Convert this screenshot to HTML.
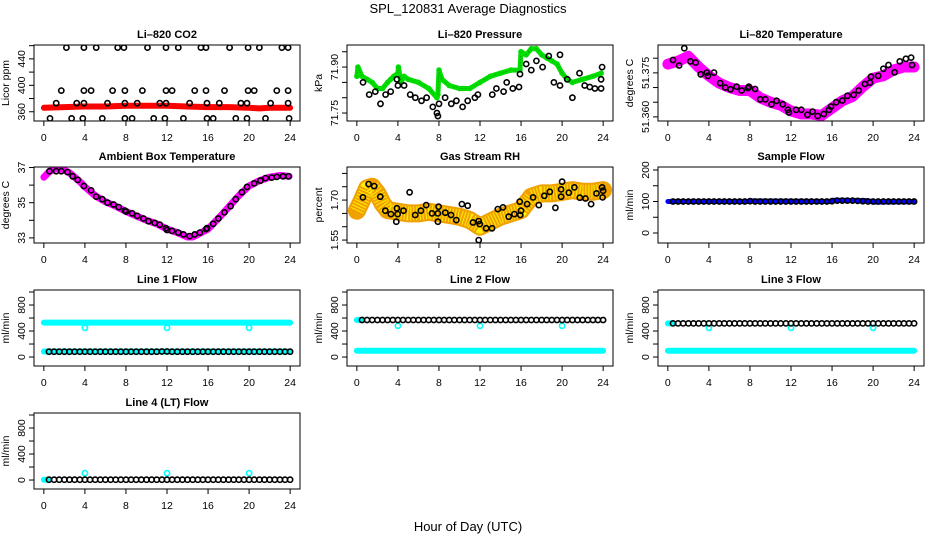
<!DOCTYPE html>
<html><head><meta charset="utf-8">
<style>
html,body{margin:0;padding:0;background:#fff;}
svg{display:block;font-family:"Liberation Sans",Arial,sans-serif;}
</style></head>
<body>
<svg id="chart" width="936" height="540" viewBox="0 0 936 540" xmlns="http://www.w3.org/2000/svg">
<text x="468" y="13" text-anchor="middle" font-size="13">SPL_120831  Average Diagnostics</text>
<text x="468" y="531" text-anchor="middle" font-size="13">Hour of Day (UTC)</text>
</svg>
<script>
// ---------- data ----------
const xTicks = [0,4,8,12,16,20,24];
// CO2
const co2BandH = [0,2,4,6,8,10,12,14,16,18,20,21,22,24];
const co2BandV = [366,367,368,368,369,369,369,368,367,367,366,365,366,366];
const co2PtsH = [2.2,3.9,5.1,7.2,7.8,10.1,11.9,13.1,15.3,15.8,18.1,19.9,21.0,23.2,23.8,
 1.7,3.9,4.6,6.7,7.9,9.6,11.9,12.5,14.7,15.8,17.6,19.9,20.5,22.7,23.8,
 1.2,3.2,3.9,6.2,7.9,9.1,11.3,11.9,14.2,15.9,17.1,19.2,19.8,22.1,23.8,
 0.6,2.7,3.8,5.7,7.9,8.6,10.7,11.8,13.6,15.9,16.5,18.7,19.8,21.6,23.9];
const co2PtsV = [457,457,457,457,457,457,457,457,457,457,457,457,457,457,457,
 392,392,392,392,392,392,392,392,392,392,392,392,392,392,392,
 373,373,373,373,373,373,373,373,373,373,373,373,373,373,373,
 350,350,350,350,350,350,350,350,350,350,350,350,350,350,350];
// Pressure
const presBandH = [0,0.1,0.5,1,1.5,2,2.5,3,3.3,3.6,4,4.05,4.3,4.6,5,6,7,7.8,7.9,8,8.3,9,10,11,12,13,14,15,15.9,16,16.5,17,17.5,18,18.5,19,19.5,20,20.5,21,22,23,23.8];
const presBandV = [71.87,71.90,71.87,71.86,71.85,71.83,71.83,71.85,71.86,71.87,71.88,71.90,71.85,71.87,71.86,71.85,71.83,71.80,71.81,71.89,71.86,71.84,71.83,71.83,71.85,71.87,71.88,71.89,71.89,71.95,71.94,71.96,71.96,71.94,71.93,71.92,71.91,71.88,71.86,71.85,71.86,71.87,71.88];
const presPtsH = [0.6,1.2,1.8,2.3,2.8,3.3,3.9,4.0,4.6,5.2,5.7,6.3,6.8,7.4,7.8,7.9,8.0,8.6,9.2,9.7,10.3,10.8,11.5,11.8,13.2,13.6,14.3,14.6,15.2,15.8,15.9,16.5,17.0,17.5,18.1,18.7,19.2,19.8,19.8,20.5,21.0,21.7,22.2,22.7,23.2,23.8,23.8,23.9];
const presPtsV = [71.85,71.81,71.82,71.78,71.81,71.82,71.86,71.84,71.84,71.81,71.80,71.79,71.80,71.77,71.75,71.74,71.78,71.80,71.78,71.79,71.77,71.79,71.80,71.81,71.81,71.83,71.82,71.85,71.83,71.835,71.877,71.91,71.89,71.92,71.90,71.936,71.85,71.84,71.94,71.86,71.80,71.88,71.84,71.835,71.83,71.83,71.86,71.90];
// Li-820 temperature
const ltBandH = [0,1,2,3,4,5,6,7,8,9,10,11,12,13,14,15,16,17,18,19,20,21,22,23,24];
const ltBandV = [51.378,51.379,51.3806,51.377,51.374,51.3715,51.370,51.369,51.369,51.3665,51.365,51.364,51.362,51.361,51.361,51.3605,51.363,51.3655,51.367,51.3703,51.3732,51.374,51.376,51.377,51.377];
const ltPtsH = [0.5,1.1,1.6,2.2,2.7,3.2,3.8,3.9,4.5,5.1,5.6,6.1,6.7,7.2,7.8,7.9,8.5,9.0,9.5,10.1,10.6,11.2,11.7,11.8,12.5,13.0,13.6,14.1,14.6,15.2,15.7,15.9,16.4,17.0,17.5,18.1,18.6,19.2,19.7,19.8,20.5,21.0,21.5,22.1,22.6,23.2,23.7,23.8];
const ltPtsV = [51.3794,51.3775,51.3834,51.3789,51.3785,51.3745,51.3751,51.374,51.3751,51.3715,51.370,51.3694,51.3703,51.369,51.3698,51.3703,51.3695,51.366,51.366,51.3643,51.3655,51.3643,51.3624,51.3615,51.3624,51.3624,51.3607,51.3618,51.3603,51.361,51.3624,51.3635,51.365,51.3656,51.3672,51.3675,51.369,51.3712,51.3717,51.3737,51.374,51.3764,51.3777,51.3752,51.3789,51.3798,51.3802,51.3777];
// Ambient box temperature
const abBandH = [0,0.5,1,1.5,2,2.5,3,3.5,4,5,6,7,8,9,10,11,12,13,14,14.5,15,16,17,18,19,20,21,22,23,23.9];
const abBandV = [36.45,36.75,36.9,36.95,36.85,36.7,36.45,36.2,35.9,35.4,35.05,34.8,34.5,34.25,34.0,33.8,33.5,33.3,33.05,33.05,33.2,33.5,34.1,34.75,35.4,35.95,36.25,36.45,36.55,36.5];
const abPtsH = [0.55,1.2,1.7,2.3,2.8,3.3,3.9,4.6,5.1,5.7,6.2,6.8,7.3,7.9,8.0,8.6,9.1,9.7,10.2,10.8,11.3,11.9,12.0,12.5,13.1,13.6,14.2,14.7,15.2,15.8,15.9,16.5,17.0,17.6,18.2,18.7,19.3,19.8,20.5,21.1,21.6,22.2,22.7,23.3,23.85];
const abPtsV = [36.79,36.79,36.79,36.74,36.5,36.3,35.95,35.7,35.35,35.2,35.0,34.9,34.75,34.55,34.5,34.4,34.25,34.1,33.95,33.85,33.75,33.55,33.45,33.4,33.3,33.2,33.1,33.2,33.3,33.5,33.55,33.8,34.1,34.45,34.8,35.2,35.6,35.9,36.1,36.25,36.4,36.43,36.47,36.5,36.5];
// Gas stream RH
const rhBandH = [0,0.5,1,1.5,2,2.5,3,4,5,6,7,8,9,10,11,12,13,14,15,16,17,18,19,20,21,22,23,24];
const rhBandV = [1.66,1.70,1.744,1.75,1.725,1.6875,1.6625,1.656,1.65,1.65,1.656,1.65,1.644,1.6375,1.625,1.60,1.619,1.6375,1.65,1.6625,1.7125,1.725,1.725,1.731,1.7375,1.731,1.731,1.7375];
const rhPtsH = [0.59,1.14,1.69,2.28,2.77,3.32,3.9,3.97,3.84,4.55,5.14,5.69,6.24,6.76,7.32,7.9,7.97,7.9,8.62,9.17,9.69,10.24,10.8,11.32,11.87,11.97,11.87,12.59,13.17,13.73,14.24,14.8,15.35,15.87,16.0,15.93,16.59,17.17,17.73,18.27,18.8,19.35,19.9,20.0,19.9,20.65,21.2,21.72,22.28,22.83,23.35,23.9,24.0,23.95];
const rhPtsV = [1.71,1.76,1.7525,1.7125,1.66,1.6475,1.669,1.6475,1.619,1.66,1.729,1.644,1.66,1.681,1.65,1.65,1.675,1.619,1.6525,1.644,1.625,1.685,1.679,1.616,1.621,1.61,1.55,1.594,1.594,1.666,1.6725,1.6375,1.6475,1.694,1.66,1.644,1.685,1.71,1.681,1.716,1.731,1.671,1.74,1.769,1.7125,1.7275,1.7475,1.709,1.706,1.685,1.725,1.7475,1.735,1.71];
// Flows (black averages, half-hourly)
const flowH = [0.5,1,1.5,2,2.5,3,3.5,4,4.5,5,5.5,6,6.5,7,7.5,8,8.5,9,9.5,10,10.5,11,11.5,12,12.5,13,13.5,14,14.5,15,15.5,16,16.5,17,17.5,18,18.5,19,19.5,20,20.5,21,21.5,22,22.5,23,23.5,24];
const sampleV = [100,100,100,100,100,100,100,100,100,100,100,100,100,100,100,101,100,100,100,100,100,100,100,100,100,100,100,100,100,100,100,101,103,103,103,103,102,101,100,100,100,100,100,100,100,100,100,100];
const sampleBandH = [0,8,8.1,16,16.1,19.5,20,24];
const sampleBandV = [100,100,102,100,104,103,98,99];
const line1V = [82,82,82,82,82,82,82,82,82,82,82,82,82,82,82,82,82,82,82,82,82,82,85,85,82,82,82,82,82,82,82,82,82,82,82,82,82,82,82,82,82,82,82,82,82,82,82,82];
const line2V = [570,570,570,570,570,570,570,570,570,570,570,570,570,570,570,570,570,570,570,570,570,570,570,570,570,570,570,570,570,570,570,570,570,570,570,570,570,570,570,570,570,570,570,570,570,570,570,570];
const line3V = [518,518,518,518,518,518,518,518,518,518,518,518,518,518,518,518,518,518,518,518,518,518,518,518,518,518,518,518,518,518,518,518,518,518,518,518,518,518,518,518,518,518,518,518,518,518,518,518];
const line4V = [5,5,5,5,5,5,5,5,5,5,5,5,5,5,5,5,5,5,5,5,5,5,5,5,5,5,5,5,5,5,5,5,5,5,5,5,5,5,5,5,5,5,5,5,5,5,5,5];
const line1HiH = [0,24]; const line1HiV = [530,530];
const line1LoH = [0,24]; const line1LoV = [85,85];
const line2HiH = [0,0.4]; const line2HiV = [570,570];
const line2LoH = [0,24]; const line2LoV = [98,98];
const line3HiH = [0,0.4]; const line3HiV = [518,518];
const line3LoH = [0,24]; const line3LoV = [98,98];
const line4LoH = [0,0.4]; const line4LoV = [5,5];
const outH = [4,12,20];
const line1OutV = [450,450,450];
const line2OutV = [480,480,480];
const line3OutV = [450,450,450];
const line4OutV = [105,105,105];

// ---------- drawing ----------
const NS = "http://www.w3.org/2000/svg";
const svg = document.getElementById('chart');
function mk(tag, attrs, parent){
  const e = document.createElementNS(NS, tag);
  for (const k in attrs) e.setAttribute(k, attrs[k]);
  (parent||svg).appendChild(e);
  return e;
}
const cols = [[34,300],[347,613],[658,924]];
const rows = [[45,121],[167,243],[290,366],[413,489]];

function panel(cfg){
  const [x0,x1] = cols[cfg.col], [y0,y1] = rows[cfg.row];
  const g = mk('g',{});
  
  
  const xs = h => x0 + (h + 0.96) / 25.92 * (x1 - x0);
  const ys = v => y1 - (v - cfg.ymin) / (cfg.ymax - cfg.ymin) * (y1 - y0);
  const clipId = 'clip-' + cfg.name;
  const cp = mk('clipPath',{id:clipId},g);
  mk('rect',{x:x0,y:y0,width:x1-x0,height:y1-y0},cp);
  const plot = mk('g',{'clip-path':'url(#'+clipId+')'},g);
  
  
  cfg.series.forEach(s => {
    const sg = mk('g',{},plot);
    
    
    if (s.band) {
      const pts = s.h.map((h,i)=>xs(h).toFixed(1)+','+ys(s.v[i]).toFixed(1)).join(' ');
      const pl = mk('polyline',{points:pts,fill:'none',stroke:s.color,'stroke-width':s.band,'stroke-linejoin':'round','stroke-linecap':'round'},sg);
      
      
      if (s.speck) {
        const sp = mk('polyline',{points:pts,fill:'none',stroke:s.speck,'stroke-width':Math.max(1,s.band-4),'stroke-dasharray':'1 2','stroke-linejoin':'round'},sg);
        
        
      }
    }
    if (s.points !== false) {
      s.h.forEach((h,i)=>{
        const c = mk('circle',{cx:xs(h).toFixed(1),cy:ys(s.v[i]).toFixed(1),r:s.r||2.6,fill:'none',stroke:s.pc||s.color,'stroke-width':1.6},sg);
        
        
      });
    }
  });
  const box = mk('rect',{x:x0,y:y0,width:x1-x0,height:y1-y0,fill:'none',stroke:'#000','stroke-width':1},g);
  
  
  const t = mk('text',{x:(x0+x1)/2,y:y0-7,'text-anchor':'middle','font-size':11,'font-weight':'bold'},g);
  t.textContent = cfg.title;
  
  
  const xa = mk('g',{},g);
  
  
  xTicks.forEach(tk=>{
    const x = xs(tk);
    mk('line',{x1:x,x2:x,y1:y1,y2:y1+5,stroke:'#000'},xa);
    const l = mk('text',{x:x,y:y1+20,'text-anchor':'middle','font-size':10.5},xa);
    l.textContent = tk;
    
    
  });
  const ya = mk('g',{},g);
  
  
  cfg.yticks.forEach(tk=>{
    const y = ys(tk);
    mk('line',{x1:x0-5,x2:x0,y1:y,y2:y,stroke:'#000'},ya);
  });
  cfg.ylabels.forEach(tk=>{
    const y = ys(tk);
    const lx = x0 - 9;
    const l = mk('text',{x:lx,y:y,'text-anchor':'middle','font-size':10.5,transform:'rotate(-90 '+lx+' '+y+')'},ya);
    l.textContent = cfg.fmt ? tk.toFixed(cfg.fmt) : tk;
    
    
  });
  const tx = x0 - 25, ty = (y0+y1)/2;
  const yt = mk('text',{x:tx,y:ty,'text-anchor':'middle','font-size':10.5,transform:'rotate(-90 '+tx+' '+ty+')'},g);
  yt.textContent = cfg.ytitle;
  
  
}

const flowTicks = [0,200,400,600,800,1000];
const flowLabels = [0,400,800];

panel({name:'co2-panel',col:0,row:0,title:'Li\u2013820 CO2',ytitle:'Licor ppm',ymin:346,ymax:461,
  yticks:[360,380,400,420,440,460],ylabels:[360,400,440],
  series:[{name:'co2-raw',h:co2BandH,v:co2BandV,color:'#ff0000',band:6,points:false},
          {name:'co2-avg',h:co2PtsH,v:co2PtsV,color:'#000'}]});
panel({name:'pressure-panel',col:1,row:0,title:'Li\u2013820 Pressure',ytitle:'kPa',ymin:71.724,ymax:71.972,fmt:2,
  yticks:[71.75,71.80,71.85,71.90,71.95],ylabels:[71.75,71.90],
  series:[{name:'pressure-raw',h:presBandH,v:presBandV,color:'#00dd00',band:5,speck:'#009900',points:true,r:2},
          {name:'pressure-avg',h:presPtsH,v:presPtsV,color:'#000'}]});
panel({name:'licor-temp-panel',col:2,row:0,title:'Li\u2013820 Temperature',ytitle:'degrees C',ymin:51.3586,ymax:51.3845,fmt:3,
  yticks:[51.360,51.365,51.370,51.375,51.380],ylabels:[51.360,51.375],
  series:[{name:'licor-temp-raw',h:ltBandH,v:ltBandV,color:'#ff00ff',band:11,points:true,r:3},
          {name:'licor-temp-avg',h:ltPtsH,v:ltPtsV,color:'#000'}]});
panel({name:'ambient-temp-panel',col:0,row:1,title:'Ambient Box Temperature',ytitle:'degrees C',ymin:32.71,ymax:37.03,
  yticks:[33,34,35,36,37],ylabels:[33,35,37],
  series:[{name:'ambient-temp-raw',h:abBandH,v:abBandV,color:'#ff00ff',band:7,points:false},
          {name:'ambient-temp-avg',h:abPtsH,v:abPtsV,color:'#000'}]});
panel({name:'rh-panel',col:1,row:1,title:'Gas Stream RH',ytitle:'percent',ymin:1.539,ymax:1.824,fmt:2,
  yticks:[1.55,1.60,1.65,1.70,1.75,1.80],ylabels:[1.55,1.70],
  series:[{name:'rh-raw',h:rhBandH,v:rhBandV,color:'#f0a000',band:18,speck:'#ffee00',points:false},
          {name:'rh-avg',h:rhPtsH,v:rhPtsV,color:'#000'}]});
panel({name:'sample-flow-panel',col:2,row:1,title:'Sample Flow',ytitle:'ml/min',ymin:-31.7,ymax:209.5,
  yticks:[0,50,100,150,200],ylabels:[0,100,200],
  series:[{name:'sample-flow-raw',h:sampleBandH,v:sampleBandV,color:'#0000ff',band:5,points:false},
          {name:'sample-flow-avg',h:flowH,v:sampleV,color:'#000'}]});
panel({name:'line1-flow-panel',col:0,row:2,title:'Line 1 Flow',ytitle:'ml/min',ymin:-138,ymax:1031,
  yticks:flowTicks,ylabels:flowLabels,
  series:[{name:'line1-raw-high',h:line1HiH,v:line1HiV,color:'#00ffff',band:6,points:false},
          {name:'line1-raw-low',h:line1LoH,v:line1LoV,color:'#00ffff',band:6,points:false},
          {name:'line1-outliers',h:outH,v:line1OutV,color:'#00ffff'},
          {name:'line1-avg',h:flowH,v:line1V,color:'#000'}]});
panel({name:'line2-flow-panel',col:1,row:2,title:'Line 2 Flow',ytitle:'ml/min',ymin:-138,ymax:1031,
  yticks:flowTicks,ylabels:flowLabels,
  series:[{name:'line2-raw-high',h:line2HiH,v:line2HiV,color:'#00ffff',band:6,points:false},
          {name:'line2-raw-low',h:line2LoH,v:line2LoV,color:'#00ffff',band:6,points:false},
          {name:'line2-outliers',h:outH,v:line2OutV,color:'#00ffff'},
          {name:'line2-avg',h:flowH,v:line2V,color:'#000'}]});
panel({name:'line3-flow-panel',col:2,row:2,title:'Line 3 Flow',ytitle:'ml/min',ymin:-138,ymax:1031,
  yticks:flowTicks,ylabels:flowLabels,
  series:[{name:'line3-raw-high',h:line3HiH,v:line3HiV,color:'#00ffff',band:6,points:false},
          {name:'line3-raw-low',h:line3LoH,v:line3LoV,color:'#00ffff',band:6,points:false},
          {name:'line3-outliers',h:outH,v:line3OutV,color:'#00ffff'},
          {name:'line3-avg',h:flowH,v:line3V,color:'#000'}]});
panel({name:'line4-flow-panel',col:0,row:3,title:'Line 4 (LT) Flow',ytitle:'ml/min',ymin:-138,ymax:1031,
  yticks:flowTicks,ylabels:flowLabels,
  series:[{name:'line4-raw',h:line4LoH,v:line4LoV,color:'#00ffff',band:6,points:false},
          {name:'line4-outliers',h:outH,v:line4OutV,color:'#00ffff'},
          {name:'line4-avg',h:flowH,v:line4V,color:'#000'}]});
</script>
</body></html>
